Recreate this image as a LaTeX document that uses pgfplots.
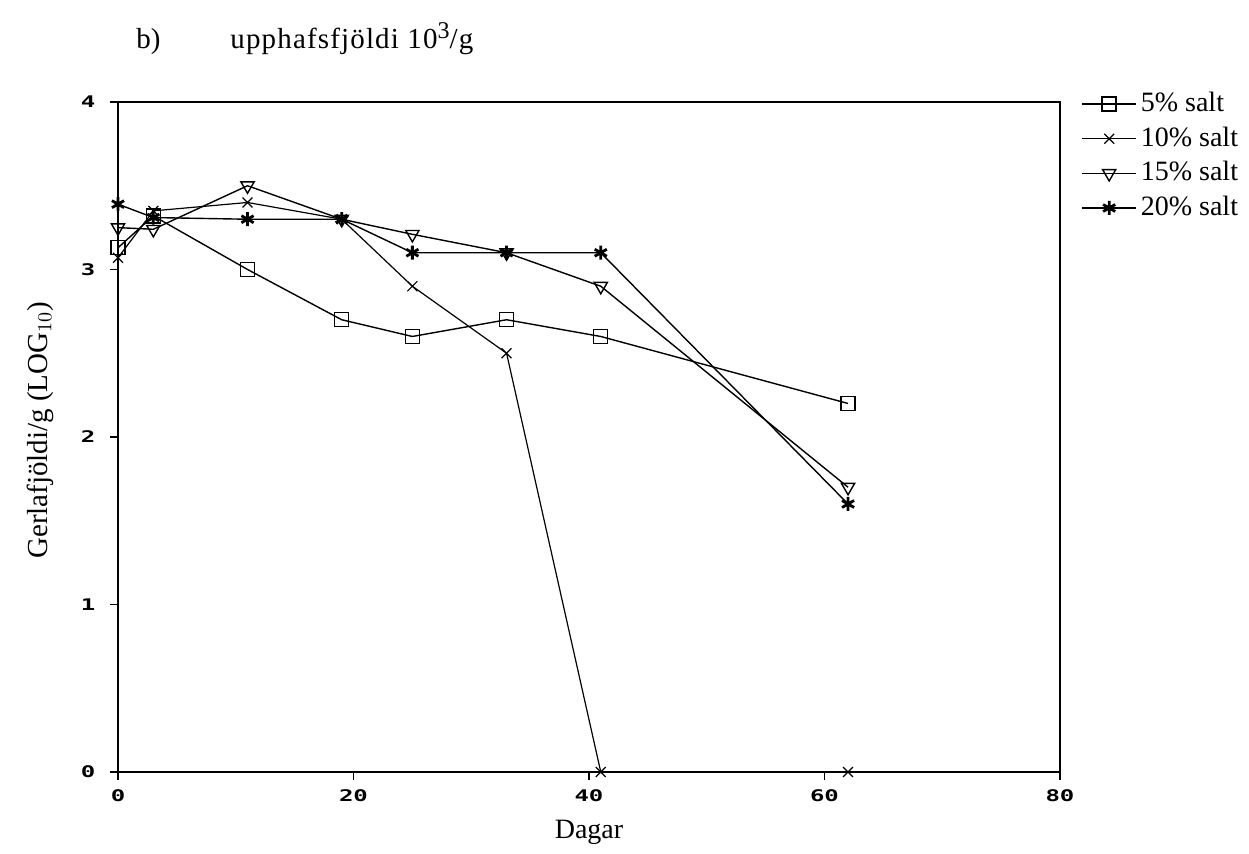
\documentclass[border=0pt]{standalone}
\usepackage{fontspec}
\setmainfont{Liberation Serif}
\newfontfamily\tickfont{DejaVu Sans Mono}
\usepackage{pgfplots}
\pgfplotsset{compat=1.18}
\begin{document}
\fontsize{14}{16}\selectfont
\begin{tikzpicture}[x=1pt,y=1pt]
\path[use as bounding box] (0,0) rectangle (624.5,427);
\node[anchor=base west,inner sep=0,font=\fontsize{14.5}{16}\selectfont] at (68,402.5) {b)};
\node[anchor=base west,inner sep=0,font=\fontsize{14.5}{16}\selectfont] at (115,402.5) {\addfontfeatures{LetterSpace=4}upphafsfjöldi 10\raisebox{5pt}{\fontsize{12}{14}\selectfont 3}/g};
\begin{axis}[
  at={(59pt,41pt)}, anchor=south west,
  scale only axis, width=471pt, height=335pt,
  xmin=0, xmax=80, ymin=0, ymax=4,
  xtick={0,20,40,60,80}, ytick={0,1,2,3,4},
  tick align=outside, tick pos=left,
  major tick length=4pt,
  axis line style={line width=0.9pt},
  every tick/.style={black, line width=0.6pt},
  /pgf/number format/assume math mode=true,
  ticklabel style={font=\tickfont\bfseries\fontsize{8}{10}\selectfont, xscale=1.5},
  xlabel={Dagar},
  ylabel={Gerlafjöldi/g (LOG$_{10}$)},
  xlabel style={at={([yshift=-30pt]rel axis cs:0.5,0)}, anchor=center, font=\fontsize{14}{16}\selectfont},
  ylabel style={at={([xshift=-39pt]rel axis cs:0,0.51)}, anchor=center, font=\fontsize{14.5}{16}\selectfont},
  clip=false,
  every axis plot/.append style={black, line width=0.7pt},
  legend style={at={(rel axis cs:1.016,1.027)}, anchor=north west, draw=none, fill=none,
    row sep=1.5pt, font=\fontsize{14}{16}\selectfont},
  legend cell align=left,
  legend image code/.code={\draw[mark repeat=2,mark phase=2,#1] plot coordinates {(0pt,0pt) (13.5pt,0pt) (27pt,0pt)};},
]
\addplot[mark=square, mark size=3.5pt, mark options={solid, line width=0.7pt}] coordinates {
 (0,3.13) (3,3.32) (11,3.0) (19,2.7) (25,2.6) (33,2.7) (41,2.6) (62,2.2)};
\addlegendentry{5\% salt}
\addplot[mark=x, mark size=3.5pt, line width=0.6pt] coordinates {
 (0,3.07) (3,3.35) (11,3.4) (19,3.3) (25,2.9) (33,2.5) (41,0) (62,0)};
\addlegendentry{10\% salt}
\addplot[mark=triangle, mark size=3.8pt, mark options={rotate=180, line width=0.7pt}] coordinates {
 (0,3.25) (3,3.24) (11,3.5) (19,3.3) (25,3.21) (33,3.1) (41,2.9) (62,1.7)};
\addlegendentry{15\% salt}
\addplot[mark=asterisk, mark size=3.5pt, mark options={line width=1.4pt}] coordinates {
 (0,3.39) (3,3.31) (11,3.3) (19,3.3) (25,3.1) (33,3.1) (41,3.1) (62,1.6)};
\addlegendentry{20\% salt}
\end{axis}
\end{tikzpicture}
\end{document}
